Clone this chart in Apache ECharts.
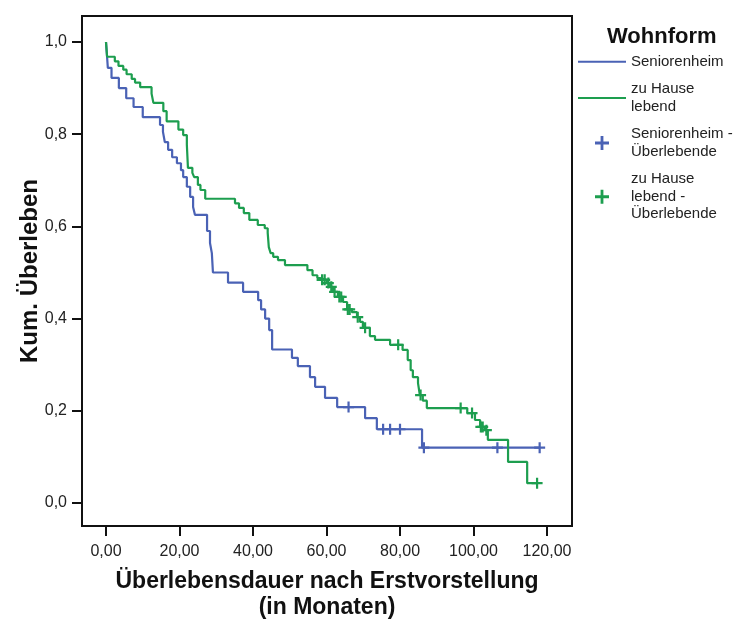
<!DOCTYPE html>
<html>
<head>
<meta charset="utf-8">
<script src="https://cdn.jsdelivr.net/npm/echarts@6/dist/echarts.min.js"></script>
<style>html,body{margin:0;padding:0;background:#fff;}#chart{width:742px;height:620px;}</style>
</head>
<body>
<div id="chart"></div>
<script>
// ---- Data ----
const xTicks = [0, 20, 40, 60, 80, 100, 120];
const yTicks = [0, 0.2, 0.4, 0.6, 0.8, 1.0];

// Seniorenheim (Kaplan-Meier steps: time, survival after step)
const blueTimes = [0, 0.3, 0.5, 1.5, 3.5, 5.5, 7.5, 10, 14.7, 15.5, 16, 16.9, 18, 19.3, 20.4, 21, 22, 22.9, 23.7, 24.2, 27.5, 28.3, 28.8, 29.1, 33.2, 37.3, 41.4, 42.2, 43.3, 44.4, 45.2, 50.6, 52.2, 55.5, 56.9, 59.6, 62.9, 70.5, 73.7, 86, 118];
const blueSurv  = [1.0, 0.967, 0.944, 0.922, 0.9, 0.878, 0.859, 0.837, 0.82, 0.805, 0.783, 0.766, 0.75, 0.737, 0.722, 0.707, 0.686, 0.664, 0.642, 0.625, 0.59, 0.564, 0.542, 0.5, 0.478, 0.458, 0.44, 0.42, 0.40, 0.375, 0.333, 0.315, 0.297, 0.273, 0.252, 0.228, 0.208, 0.184, 0.16, 0.12, 0.12];
const blueCensored = [66, 75.4, 77.3, 80, 86.5, 106.5, 118];

// zu Hause lebend
const greenTimes = [0, 0.3, 2.4, 3.4, 4.7, 5.6, 7, 7.9, 9.3, 12.4, 12.9, 15.6, 16.5, 19.7, 21, 22, 22.3, 23.5, 24, 25, 25.7, 27, 35.1, 36.2, 37.5, 39, 41.3, 43.2, 44, 44.3, 44.8, 45.5, 46.8, 48.7, 54.8, 56.2, 57.5, 58.2, 60.1, 61, 61.8, 63.1, 64.5, 65.6, 66.9, 68.3, 69.1, 69.9, 71.8, 73.2, 77.3, 80.7, 82.1, 82.9, 83.5, 84.9, 85.4, 86.2, 87.3, 98.3, 100.4, 101.8, 103.1, 103.9, 109.4, 114.6, 117.3];
const greenSurv  = [1.0, 0.968, 0.958, 0.948, 0.94, 0.93, 0.92, 0.912, 0.902, 0.888, 0.868, 0.85, 0.828, 0.81, 0.798, 0.777, 0.727, 0.716, 0.707, 0.69, 0.679, 0.66, 0.65, 0.64, 0.629, 0.614, 0.603, 0.596, 0.586, 0.555, 0.542, 0.534, 0.527, 0.516, 0.505, 0.494, 0.488, 0.484, 0.477, 0.469, 0.458, 0.447, 0.436, 0.42, 0.414, 0.403, 0.393, 0.38, 0.362, 0.354, 0.343, 0.332, 0.31, 0.288, 0.273, 0.26, 0.234, 0.222, 0.206, 0.195, 0.18, 0.165, 0.158, 0.137, 0.089, 0.043, 0.043];
const greenCensored = [58.8, 59.5, 60.5, 61.3, 62.2, 63.5, 64, 65.8, 66.3, 68.5, 70.5, 79.5, 85.6, 96.5, 99.6, 102, 102.5, 103.5, 117.3];

const seriesNames = ['Seniorenheim', 'zu Hause lebend', 'Seniorenheim - Überlebende', 'zu Hause lebend - Überlebende'];
const legendLabels = {
  'Seniorenheim': 'Seniorenheim',
  'zu Hause lebend': 'zu Hause\nlebend',
  'Seniorenheim - Überlebende': 'Seniorenheim -\nÜberlebende',
  'zu Hause lebend - Überlebende': 'zu Hause\nlebend -\nÜberlebende'
};

// ---- Build ----
const FONT = '"Liberation Sans", Arial, sans-serif';
const BLUE = '#4a62b5';
const GREEN = '#1d9e4f';
const PLUS = 'path://M4,0 L6,0 L6,4 L10,4 L10,6 L6,6 L6,10 L4,10 L4,6 L0,6 L0,4 L4,4 Z';

function pairs(ts, ss) { return ts.map((t, i) => [t, ss[i]]); }
function survAt(ts, ss, t) {
  let s = ss[0];
  for (let i = 0; i < ts.length; i++) { if (ts[i] <= t) s = ss[i]; }
  return s;
}
function censorPts(cs, ts, ss) { return cs.map(t => [t, survAt(ts, ss, t)]); }

const chart = echarts.init(document.getElementById('chart'), null, {renderer: 'canvas'});
const option = {
  animation: false,
  backgroundColor: '#fff',
  textStyle: {fontFamily: FONT},
  title: {
    text: 'Wohnform', left: 602, top: 21,
    textStyle: {fontFamily: FONT, fontSize: 22, fontWeight: 'bold', color: '#111'}
  },
  legend: {
    orient: 'vertical', left: 572, top: 48,
    itemWidth: 48, itemHeight: 14, itemGap: 10,
    data: [
      {name: seriesNames[0], itemStyle: {opacity: 0}},
      {name: seriesNames[1], itemStyle: {opacity: 0}},
      {name: seriesNames[2]},
      {name: seriesNames[3]}
    ],
    formatter: n => legendLabels[n],
    textStyle: {fontFamily: FONT, fontSize: 15, lineHeight: 17.5, color: '#222'}
  },
  grid: {
    left: 82, right: 170, top: 16, bottom: 94,
    show: true, borderColor: '#111', borderWidth: 2, backgroundColor: '#fff',
    containLabel: false, outerBoundsMode: 'none'
  },
  xAxis: {
    type: 'value', min: -6.53, max: 126.8,
    splitLine: {show: false},
    axisLine: {show: true, onZero: false, lineStyle: {color: '#111', width: 2}},
    axisTick: {show: true, inside: false, length: 10, customValues: xTicks, lineStyle: {color: '#111', width: 2}},
    axisLabel: {customValues: xTicks, margin: 18, fontSize: 16, color: '#222', fontFamily: FONT,
      formatter: v => v.toFixed(2).replace('.', ',')},
    name: 'Überlebensdauer nach Erstvorstellung\n(in Monaten)',
    nameLocation: 'middle', nameGap: 43, nameMoveOverlap: false,
    nameTextStyle: {fontSize: 23, fontWeight: 'bold', lineHeight: 26, color: '#111', fontFamily: FONT}
  },
  yAxis: {
    type: 'value', min: -0.0499, max: 1.0564,
    splitLine: {show: false},
    axisLine: {show: true, onZero: false, lineStyle: {color: '#111', width: 2}},
    axisTick: {show: true, inside: false, length: 10, customValues: yTicks, lineStyle: {color: '#111', width: 2}},
    axisLabel: {customValues: yTicks, margin: 15, fontSize: 16, color: '#222', fontFamily: FONT,
      formatter: v => v.toFixed(1).replace('.', ',')},
    name: 'Kum. Überleben',
    nameLocation: 'middle', nameGap: 40, nameRotate: 90, nameMoveOverlap: false,
    nameTextStyle: {fontSize: 24, fontWeight: 'bold', color: '#111', fontFamily: FONT}
  },
  series: [
    {name: seriesNames[0], type: 'line', step: 'end', symbol: 'none', showSymbol: false,
     data: pairs(blueTimes, blueSurv), lineStyle: {color: BLUE, width: 2.2}, itemStyle: {color: BLUE}, z: 2},
    {name: seriesNames[1], type: 'line', step: 'end', symbol: 'none', showSymbol: false,
     data: pairs(greenTimes, greenSurv), lineStyle: {color: GREEN, width: 2.2}, itemStyle: {color: GREEN}, z: 3},
    {name: seriesNames[2], type: 'scatter', symbol: PLUS, symbolSize: 11,
     data: censorPts(blueCensored, blueTimes, blueSurv), itemStyle: {color: BLUE, opacity: 1}, z: 4},
    {name: seriesNames[3], type: 'scatter', symbol: PLUS, symbolSize: 11,
     data: censorPts(greenCensored, greenTimes, greenSurv), itemStyle: {color: GREEN, opacity: 1}, z: 5}
  ]
};
chart.setOption(option);
</script>
</body>
</html>
